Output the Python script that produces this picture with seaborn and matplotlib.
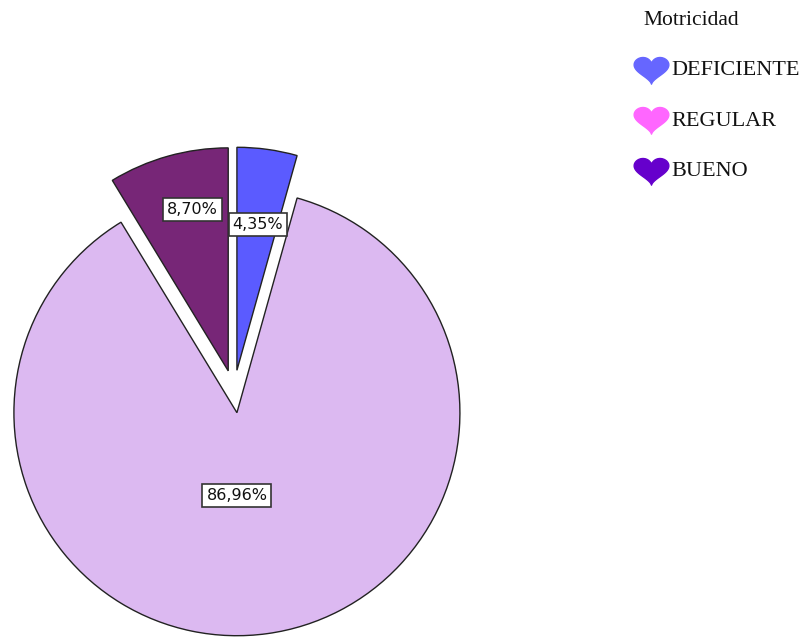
import numpy as np
import matplotlib.pyplot as plt
import seaborn as sns
from matplotlib.path import Path
from matplotlib.lines import Line2D

categories = ["DEFICIENTE", "REGULAR", "BUENO"]
percentages = [4.35, 86.96, 8.70]
pie_colors = ["#5b5bff", "#dcb9f1", "#772677"]
legend_colors = ["#6666ff", "#ff66ff", "#6600cc"]

sns.set_theme(style="white")
plt.rcParams["font.family"] = ["DejaVu Sans"]

W, H = 805, 637
fig = plt.figure(figsize=(W / 100, H / 100), dpi=100)
ax = fig.add_axes([0, 0, 1, 1])

radius = 223
center = (234, 245.5)
explode = [0.096 * radius] * len(percentages)

wedges, _ = ax.pie(
    percentages,
    colors=pie_colors,
    startangle=90,
    counterclock=False,
    radius=radius,
    center=center,
    explode=explode,
    wedgeprops=dict(edgecolor="#222222", linewidth=1.0),
)
ax.set_xlim(0, W)
ax.set_ylim(0, H)
ax.set_aspect("equal")
ax.axis("off")

# label placement per slice (fraction of radius, angle nudge in degrees)
label_dist = [0.66, 0.37, 0.74]
label_turn = [-0.4, -7.8, -3.2]
for w, p, d, turn in zip(wedges, percentages, label_dist, label_turn):
    ang = np.deg2rad((w.theta1 + w.theta2) / 2 + turn)
    cx, cy = w.center
    ax.text(cx + d * radius * np.cos(ang), cy + d * radius * np.sin(ang),
            f"{p:.2f}%".replace(".", ","), ha="center", va="center",
            fontsize=11.5, color="#111111",
            bbox=dict(boxstyle="square,pad=0.25", fc="white", ec="#333333", lw=1.2))

# heart shaped legend marker
t = np.linspace(0, 2 * np.pi, 80)
hx = 16 * np.sin(t) ** 3
hy = 0.85 * (13 * np.cos(t) - 5 * np.cos(2 * t) - 2 * np.cos(3 * t) - np.cos(4 * t))
heart = Path(np.column_stack([hx, hy]))

handles = [Line2D([], [], linestyle="none", marker=heart, markersize=25,
                  markerfacecolor=c, markeredgecolor=c) for c in legend_colors]
leg = fig.legend(handles, categories, title="Motricidad", loc="upper left",
                 bbox_to_anchor=(615 / W, 1 + 7 / H), frameon=False,
                 prop=dict(family="Liberation Serif", size=16),
                 title_fontproperties=dict(family="Liberation Serif", size=15.5),
                 alignment="left", labelspacing=1.35, handletextpad=0.15,
                 handlelength=1.6, borderpad=0.3)
for txt in leg.get_texts():
    txt.set_color("#111111")
leg.get_title().set_color("#111111")
leg.get_title().set_x(11)

fig.savefig("out.png", dpi=100)
